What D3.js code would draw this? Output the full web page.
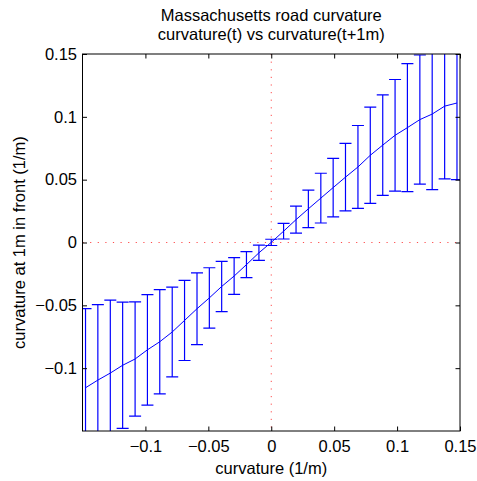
<!DOCTYPE html>
<html>
<head>
<meta charset="utf-8">
<script src="https://cdn.jsdelivr.net/npm/d3@7"></script>
<style>
  body { margin: 0; background: #fff; }
  svg { display: block; font-family: "Liberation Sans", Arial, Helvetica, sans-serif; }
</style>
</head>
<body>
<div id="chart"></div>
<script>
// bin centres (curvature at t)
const curvX = [-0.1476, -0.1378, -0.1279, -0.1181, -0.1082, -0.0984, -0.0886, -0.0787,
  -0.0689, -0.0590, -0.0492, -0.0394, -0.0295, -0.0197, -0.0098, 0,
  0.0098, 0.0197, 0.0295, 0.0394, 0.0492, 0.0590, 0.0689, 0.0787,
  0.0886, 0.0984, 0.1082, 0.1181, 0.1279, 0.1378, 0.1476];
// mean curvature 1m ahead
const meanY = [-0.1156, -0.1095, -0.1039, -0.0977, -0.0927, -0.0854, -0.0790, -0.0712,
  -0.0620, -0.0527, -0.0441, -0.0350, -0.0267, -0.0176, -0.0082, 0.0001,
  0.0090, 0.0182, 0.0268, 0.0353, 0.0437, 0.0520, 0.0601, 0.0694,
  0.0775, 0.0853, 0.0914, 0.0978, 0.1022, 0.1085, 0.1110];
// half height of the error bars
const errY = [0.0630, 0.0601, 0.0580, 0.0502, 0.0454, 0.0440, 0.0415, 0.0357,
  0.0319, 0.0285, 0.0240, 0.0200, 0.0146, 0.0104, 0.0061, 0.0025,
  0.0062, 0.0108, 0.0149, 0.0198, 0.0233, 0.0268, 0.0330, 0.0383,
  0.0400, 0.0444, 0.0509, 0.0514, 0.0602, 0.0579, 0.0610];

const tickVals = [-0.1, -0.05, 0, 0.05, 0.1, 0.15];
const tickLabels = ["\u22120.1", "\u22120.05", "0", "0.05", "0.1", "0.15"];
const titleLines = ["Massachusetts road curvature", "curvature(t) vs curvature(t+1m)"];

const W = 477, H = 481;
const margin = { top: 54, right: 17, bottom: 50, left: 82.5 };
const width = W - margin.left - margin.right;
const height = H - margin.top - margin.bottom;

const data = curvX.map((x, i) => ({ x: x, y: meanY[i], e: errY[i] }));

const x = d3.scaleLinear().domain([-0.15, 0.15]).range([0, width]);
const y = d3.scaleLinear().domain([-0.15, 0.15]).range([height, 0]);

const svg = d3.select("#chart").append("svg")
  .attr("width", W)
  .attr("height", H);

// title
svg.append("g").selectAll("text")
  .data(titleLines)
  .join("text")
    .attr("x", margin.left + width / 2)
    .attr("y", (d, i) => 20.5 + i * 19)
    .attr("text-anchor", "middle")
    .attr("font-size", 16.5)
    .attr("fill", "#000")
    .text(d => d);

const g = svg.append("g")
  .attr("transform", `translate(${margin.left},${margin.top})`);

g.append("clipPath").attr("id", "clip")
  .append("rect").attr("width", width).attr("height", height);

const plot = g.append("g").attr("clip-path", "url(#clip)");

// zero reference lines
plot.append("line")
  .attr("x1", 0).attr("x2", width)
  .attr("y1", y(0)).attr("y2", y(0))
  .attr("stroke", "#ff0000").attr("stroke-opacity", 0.7)
  .attr("stroke-dasharray", "1.2,6.4");
plot.append("line")
  .attr("x1", x(0)).attr("x2", x(0))
  .attr("y1", 0).attr("y2", height)
  .attr("stroke", "#ff0000").attr("stroke-opacity", 0.7)
  .attr("stroke-dasharray", "1.2,6.4");

// error bars: one path per bin (stem + two caps)
const barPath = d => {
  const cx = x(d.x), top = y(d.y + d.e), bot = y(d.y - d.e);
  return `M${cx},${top}V${bot}M${cx - 6},${top}H${cx + 6}M${cx - 6},${bot}H${cx + 6}`;
};

plot.selectAll("path.ebar")
  .data(data)
  .join("path")
    .attr("class", "ebar")
    .attr("fill", "none")
    .attr("stroke", "#0000ff")
    .attr("stroke-width", 1.2)
    .attr("d", barPath);

// mean line
const line = d3.line()
  .x(d => x(d.x))
  .y(d => y(d.y));

plot.append("path")
  .datum(data)
  .attr("fill", "none")
  .attr("stroke", "#0000ff")
  .attr("stroke-width", 1)
  .attr("d", line);

// axes, ticks pointing inward on all four sides
const fmt = (d, i) => tickLabels[i];

g.append("g")
  .attr("class", "axis")
  .attr("transform", `translate(0,${height})`)
  .call(d3.axisBottom(x).tickValues(tickVals).tickFormat(fmt).tickSizeInner(-4.5).tickSizeOuter(0).tickPadding(9.5));
g.append("g")
  .attr("class", "axis")
  .call(d3.axisLeft(y).tickValues(tickVals).tickFormat(fmt).tickSizeInner(-4.5).tickSizeOuter(0).tickPadding(5.5));
g.append("g")
  .attr("class", "axis")
  .call(d3.axisTop(x).tickValues(tickVals).tickFormat(() => "").tickSizeInner(-4.5).tickSizeOuter(0));
g.append("g")
  .attr("class", "axis")
  .attr("transform", `translate(${width},0)`)
  .call(d3.axisRight(y).tickValues(tickVals).tickFormat(() => "").tickSizeInner(-4.5).tickSizeOuter(0));

g.selectAll(".axis .domain").remove();
g.selectAll(".axis .tick line").attr("stroke", "#000");
g.selectAll(".axis .tick text")
  .attr("font-size", 16.5)
  .attr("font-family", "'Liberation Sans', Arial, Helvetica, sans-serif")
  .attr("fill", "#000");

g.append("rect")
  .attr("width", width).attr("height", height)
  .attr("fill", "none")
  .attr("stroke", "#000")
  .attr("stroke-width", 1);

// axis labels
svg.append("text")
  .attr("x", margin.left + width / 2)
  .attr("y", 473.5)
  .attr("text-anchor", "middle")
  .attr("font-size", 16.5)
  .text("curvature (1/m)");

svg.append("text")
  .attr("transform", `translate(25,${margin.top + height / 2}) rotate(-90)`)
  .attr("text-anchor", "middle")
  .attr("font-size", 16.5)
  .text("curvature at 1m in front (1/m)");
</script>
</body>
</html>
